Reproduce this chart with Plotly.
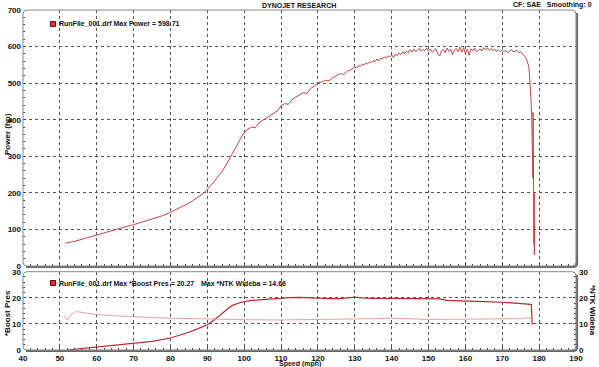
import plotly.graph_objects as go

# ---------------- data ----------------
speed_power = [51.5, 52, 52.5, 53, 53.5, 54, 55, 56, 57, 58, 59, 60, 62, 64, 66, 68, 70, 72, 74, 76, 78,
               80, 82, 84, 86, 88, 89, 90, 91, 92, 93, 94, 95, 96, 97, 98, 99,
               100, 101, 102, 103, 104, 105, 106, 107, 108, 109, 110, 111, 112, 113, 114, 115, 116, 117,
               118, 119, 120, 121, 122, 123, 124, 125, 126, 127, 128, 129,
               130, 130.5, 131, 131.5, 132, 132.5, 133, 133.5, 134, 134.5, 135, 135.5, 136, 136.5, 137,
               137.5, 138, 138.5, 139, 139.5, 140, 140.5, 141, 141.5, 142, 142.5, 143, 143.5, 144, 144.5,
               145, 145.5, 146, 146.5, 147, 147.5, 148, 148.5, 149, 149.5, 150, 150.5, 151, 151.5, 152,
               152.5, 153, 153.5, 154, 154.5, 155, 155.5, 156, 156.5, 157, 157.5, 158, 158.5, 159, 159.5,
               160, 160.5, 161, 161.5, 162, 162.5, 163, 163.5, 164, 164.5, 165, 165.5, 166, 166.5, 167,
               167.5, 168, 168.5, 169, 169.5, 170, 170.5, 171, 171.5, 172, 172.5, 173, 173.5, 174, 174.5,
               175, 175.5, 176, 176.5, 177, 177.2, 177.4, 177.6, 177.8, 178.0, 178.1, 178.2, 178.3,
               178.35, 178.4, 178.45, 178.5, 178.55, 178.6, 178.65, 178.7, 178.75]
power_hp = [62, 64, 65, 65, 66, 67, 70, 73, 76, 79, 82, 86, 92, 98, 103, 108, 113, 119, 124, 130, 138,
            147, 156, 167, 178, 191, 199, 210, 220, 232, 246, 258, 275, 293, 312, 333, 350,
            366, 374, 380, 378, 392, 398, 404, 410, 418, 424, 438, 444, 442, 455, 462, 468, 474, 472,
            485, 492, 500, 503, 508, 506, 515, 520, 526, 524, 533, 537,
            544, 541, 548, 546, 552, 549, 555, 553, 558, 556, 562, 559, 566, 561, 568,
            566, 572, 568, 575, 571, 577, 570, 579, 575, 583, 578, 586, 580, 588, 583,
            591, 585, 593, 586, 590, 595, 587, 592, 589, 596, 588, 593, 585, 590, 594,
            580, 574, 588, 592, 583, 596, 587, 593, 578, 590, 595, 586, 598.71, 584, 597,
            581, 593, 576, 594, 588, 596, 585, 590, 593, 588, 597, 592, 596, 590, 594,
            589, 593, 586, 592, 587, 591, 586, 590, 583, 589, 592, 585, 588, 590, 583,
            586, 580, 575, 568, 552, 545, 520, 498, 455, 405, 360, 300, 240,
            420, 180, 330, 120, 260, 60, 200, 30, 110]

speed_boost = [52, 55, 58, 60, 65, 70, 75, 80, 83, 85, 87, 89, 90, 91, 92, 93, 94, 95, 96, 97, 98, 99,
               100, 102, 104, 106, 108, 110, 112, 115, 118, 120, 122, 125, 128, 130, 132, 135, 140, 145,
               150, 153, 155, 158, 160, 165, 170, 175, 177, 177.9, 178.1]
boost_psi = [0, 0.4, 0.9, 1.2, 1.8, 2.4, 3.3, 4.6, 5.8, 6.8, 7.9, 9.0, 9.7, 10.6, 11.6, 12.8, 14.0, 15.3,
             16.4, 17.2, 17.8, 18.2, 18.5, 19.0, 19.2, 19.3, 19.6, 19.8, 20.1, 20.2, 20.1, 20.0, 19.8,
             19.6, 20.0, 20.27, 20.0, 19.8, 19.8, 19.8, 19.7, 19.6, 19.0, 18.8, 18.6, 18.5, 18.3, 18.0,
             17.6, 17.4, 9.7]

speed_afr = [51, 51.5, 52, 52.5, 53, 54, 54.7, 55.5, 57, 60, 65, 70, 75, 80, 85, 90, 95, 100, 110, 120,
             130, 135, 140, 145, 150, 160, 170, 175, 177, 178]
afr = [13.0, 12.5, 11.5, 12.2, 13.5, 14.5, 14.66, 14.5, 14.1, 13.6, 13.1, 12.7, 12.4, 12.2, 12.0, 11.8,
       11.7, 11.6, 11.5, 11.6, 11.8, 12.0, 12.2, 11.9, 11.7, 11.8, 11.9, 12.0, 12.3, 12.0]

x_ticks = [40, 50, 60, 70, 80, 90, 100, 110, 120, 130, 140, 150, 160, 170, 180, 190]
power_ticks = [0, 100, 200, 300, 400, 500, 600, 700]
pres_ticks = [0, 10, 20, 30]

# ---------------- layout helpers ----------------
W, H = 599, 367
L, R, T, B = 23, 23, 10, 17
PW, PH = W - L - R, H - T - B


def px_x(x):
    return (x - L) / PW


def px_y(y):
    return (H - B - y) / PH


top_dom = [px_y(266), 1]
bot_dom = [0, px_y(271.7)]

fig = go.Figure()
fig.add_trace(go.Scatter(x=speed_power, y=power_hp, mode='lines',
                         line=dict(color='#c84444', width=1), xaxis='x', yaxis='y'))
fig.add_trace(go.Scatter(x=speed_afr, y=afr, mode='lines',
                         line=dict(color='#e2a3a3', width=1), xaxis='x2', yaxis='y3'))
fig.add_trace(go.Scatter(x=speed_boost, y=boost_psi, mode='lines',
                         line=dict(color='#b02c2c', width=1.2), xaxis='x2', yaxis='y2'))

tickfont = dict(family='Liberation Sans', size=8, color='#111111', weight='bold')
grid = dict(showgrid=True, gridcolor='#555555', griddash='dot', gridwidth=1, zeroline=False)
tk = dict(ticks='inside', ticklen=3, tickcolor='#444444', tickwidth=1, automargin=False)
mn = dict(ticks='inside', ticklen=2, tickcolor='#444444', showgrid=False)

fig.update_layout(
    width=W, height=H, margin=dict(l=L, r=R, t=T, b=B, autoexpand=False),
    paper_bgcolor='white', plot_bgcolor='white', showlegend=False,
    xaxis=dict(domain=[0, 1], anchor='y', range=[40, 190], tickvals=x_ticks, showticklabels=False,
               minor=dict(dtick=2, **mn), **grid, **tk),
    yaxis=dict(domain=top_dom, anchor='x', range=[0, 700], tickvals=power_ticks, tickfont=tickfont,
               ticklabelstandoff=1, minor=dict(dtick=20, **mn), **grid, **tk),
    xaxis2=dict(domain=[0, 1], anchor='y2', range=[40, 190], tickvals=x_ticks, tickfont=tickfont,
                ticklabelstandoff=2, minor=dict(dtick=2, **mn), **grid, **tk),
    yaxis2=dict(domain=bot_dom, anchor='x2', range=[0, 30], tickvals=pres_ticks, tickfont=tickfont,
                ticklabelstandoff=1, minor=dict(dtick=2, **mn), **grid, **tk),
    yaxis3=dict(overlaying='y2', anchor='x2', side='right', range=[0, 30], tickvals=pres_ticks,
                tickfont=tickfont, ticklabelstandoff=2, showgrid=False, zeroline=False,
                minor=dict(dtick=2, **mn), **tk),
)


def rrect(x0, y0, x1, y1, r=4):
    a, b, c, d = px_x(x0), px_y(y0), px_x(x1), px_y(y1)
    rx, ry = r / PW, r / PH
    return (f"M{a + rx},{b} L{c - rx},{b} Q{c},{b} {c},{b - ry} L{c},{d + ry} Q{c},{d} {c - rx},{d} "
            f"L{a + rx},{d} Q{a},{d} {a},{d + ry} L{a},{b - ry} Q{a},{b} {a + rx},{b} Z")


def shadow(x0, y0, x1, y1, r=4):
    a, b, c, d = px_x(x0 + 3), px_y(y0 + 3), px_x(x1 + 1), px_y(y1 + 1)
    rx, ry = r / PW, r / PH
    return f"M{c},{b} L{c},{d + ry} Q{c},{d} {c - rx},{d} L{a},{d}"


shapes = []
for (y0, y1) in [(10, 266), (271.7, 350)]:
    shapes.append(dict(type='path', xref='paper', yref='paper', path=shadow(23, y0, 576, y1),
                       line=dict(color='#6a6a6a', width=2.2), layer='above'))
    shapes.append(dict(type='path', xref='paper', yref='paper', path=rrect(23, y0, 576, y1),
                       line=dict(color='#8a8a8a', width=1), layer='above'))

# legend squares
for yc in [24, 283]:
    shapes.append(dict(type='rect', xref='paper', yref='paper',
                       x0=px_x(50.5), x1=px_x(55.5), y0=px_y(yc + 2.5), y1=px_y(yc - 2.5),
                       fillcolor='#e03030', line=dict(color='#700000', width=1)))
fig.update_layout(shapes=shapes)


def ann(text, x, y, xanchor='center', yanchor='middle', angle=0, size=7):
    fig.add_annotation(text=text, xref='paper', yref='paper', x=px_x(x), y=px_y(y),
                       xanchor=xanchor, yanchor=yanchor, textangle=angle, showarrow=False,
                       font=dict(family='Liberation Sans', size=size, color='#111111'))


ann('<b>DYNOJET RESEARCH</b>', 299, 5)
ann('<b>CF: SAE   Smoothing: 0</b>', 594, 5, xanchor='right')
ann('<b>RunFile_001.drf Max Power = 598.71</b>', 57, 24, xanchor='left')
ann('<b>RunFile_001.drf Max *Boost Pres = 20.27</b>', 57, 283, xanchor='left')
ann('<b>Max *NTK Wideba = 14.66</b>', 199, 283, xanchor='left')
ann('<b>Power (hp)</b>', 7, 134, angle=-90, size=8)
ann('<b>*Boost Pres</b>', 7, 313, angle=-90, size=8)
ann('<b>*NTK Wideba</b>', 593, 310, angle=90, size=8)
ann('<b>Speed (mph)</b>', 300, 363.8, size=7)

fig.write_html('out.html', config={'displayModeBar': False},
               post_script="document.body.style.margin='0px';")
